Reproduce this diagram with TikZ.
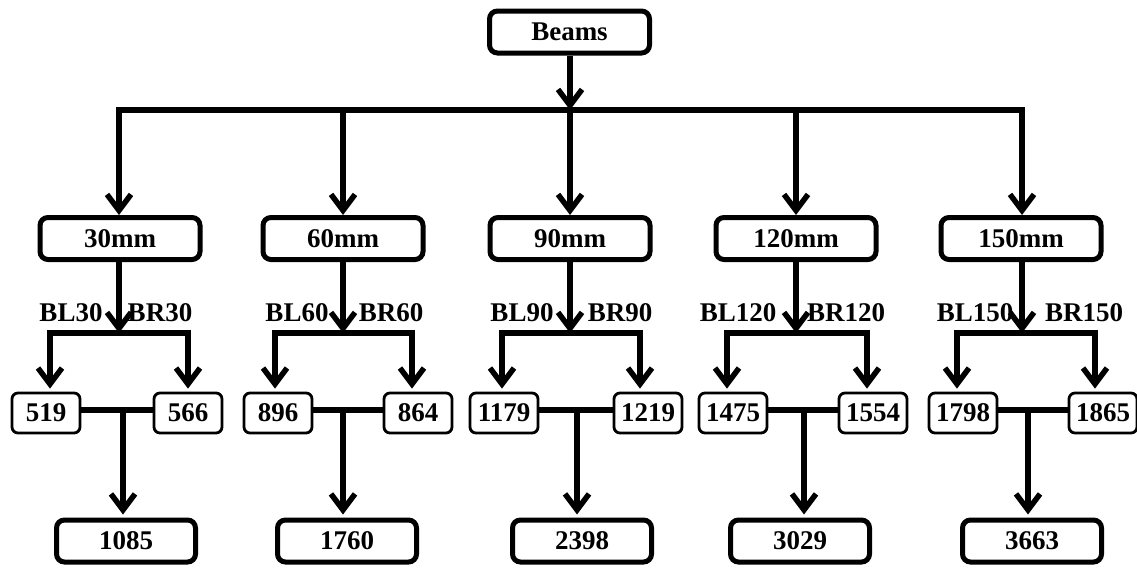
\documentclass[tikz,border=0pt]{standalone}
\usepackage{fontspec}
\setmainfont{Liberation Serif}
\usetikzlibrary{arrows.meta}
\tikzset{
  thick line/.style={line width=5.5pt, line cap=rect},
  arr/.style={line width=5.5pt, -{Straight Barb[length=16pt,width=24pt]}},
  bigbox/.style={draw, line width=5pt, rounded corners=8pt, inner sep=0pt,
    minimum width=160pt, minimum height=42pt, font=\fontsize{27}{30}\selectfont\bfseries},
  finbox/.style={bigbox, minimum width=139pt},
  smallbox/.style={draw, line width=2.8pt, rounded corners=6pt, inner sep=0pt,
    minimum width=68pt, minimum height=40pt, font=\fontsize{27}{30}\selectfont\bfseries},
  lbl/.style={inner sep=0pt, font=\fontsize{27}{30}\selectfont\bfseries},
}
\begin{document}
\begin{tikzpicture}[x=1pt,y=-1pt]
\useasboundingbox (0,0) rectangle (1137,568);
\node[bigbox] (beams) at (569.5,32) {Beams};
\coordinate (hub) at (570,110);
\coordinate (hl) at (119,110);
\coordinate (hr) at (1022,110);
\draw[thick line] (hl) -- (hr);
\draw[arr] (beams.south -| hub) -- (hub);
\foreach \g/\cx/\ax/\sL/\sR/\bL/\bR/\jx/\fx/\ll/\lr/\t/\vl/\vr/\vf in {
  a/120/119/50/188/46/188/123/126/71/160/30/519/566/1085,
  b/343/343/275/412/278/418/343/347/297/391/60/896/864/1760,
  c/570/570/502/640/504/648/577/582/522/620/90/1179/1219/2398,
  d/796/796/727/867/733/873/804/800/738/846/120/1475/1554/3029,
  e/1021/1022/957/1095/963/1103/1028/1032/975/1084/150/1798/1865/3663}{
  \node[bigbox] (m\g) at (\cx,238.5) {\t mm};
  \coordinate (top\g) at (\ax,110);
  \draw[arr] (top\g) -- (top\g |- m\g.north);
  \coordinate (sp\g) at (\ax,333);
  \coordinate (spl\g) at (\sL,333);
  \coordinate (spr\g) at (\sR,333);
  \draw[arr] (m\g.south -| sp\g) -- (sp\g);
  \draw[thick line] (spl\g) -- (spr\g);
  \node[lbl] (ll\g) at (\ll,313) {BL\t};
  \node[lbl] (lr\g) at (\lr,313) {BR\t};
  \node[smallbox] (sl\g) at (\bL,413) {\vl};
  \node[smallbox] (sr\g) at (\bR,413) {\vr};
  \draw[arr, shorten >=3pt] (spl\g) -- (spl\g |- sl\g.north);
  \draw[arr, shorten >=3pt] (spr\g) -- (spr\g |- sr\g.north);
  \draw[line width=5.5pt] (sl\g.east |- 0,410) -- (sr\g.west |- 0,410);
  \coordinate (j\g) at (\jx,410);
  \node[finbox] (f\g) at (\fx,541) {\vf};
  \draw[arr, shorten >=3pt] (j\g) -- (j\g |- f\g.north);
}
\end{tikzpicture}
\end{document}
